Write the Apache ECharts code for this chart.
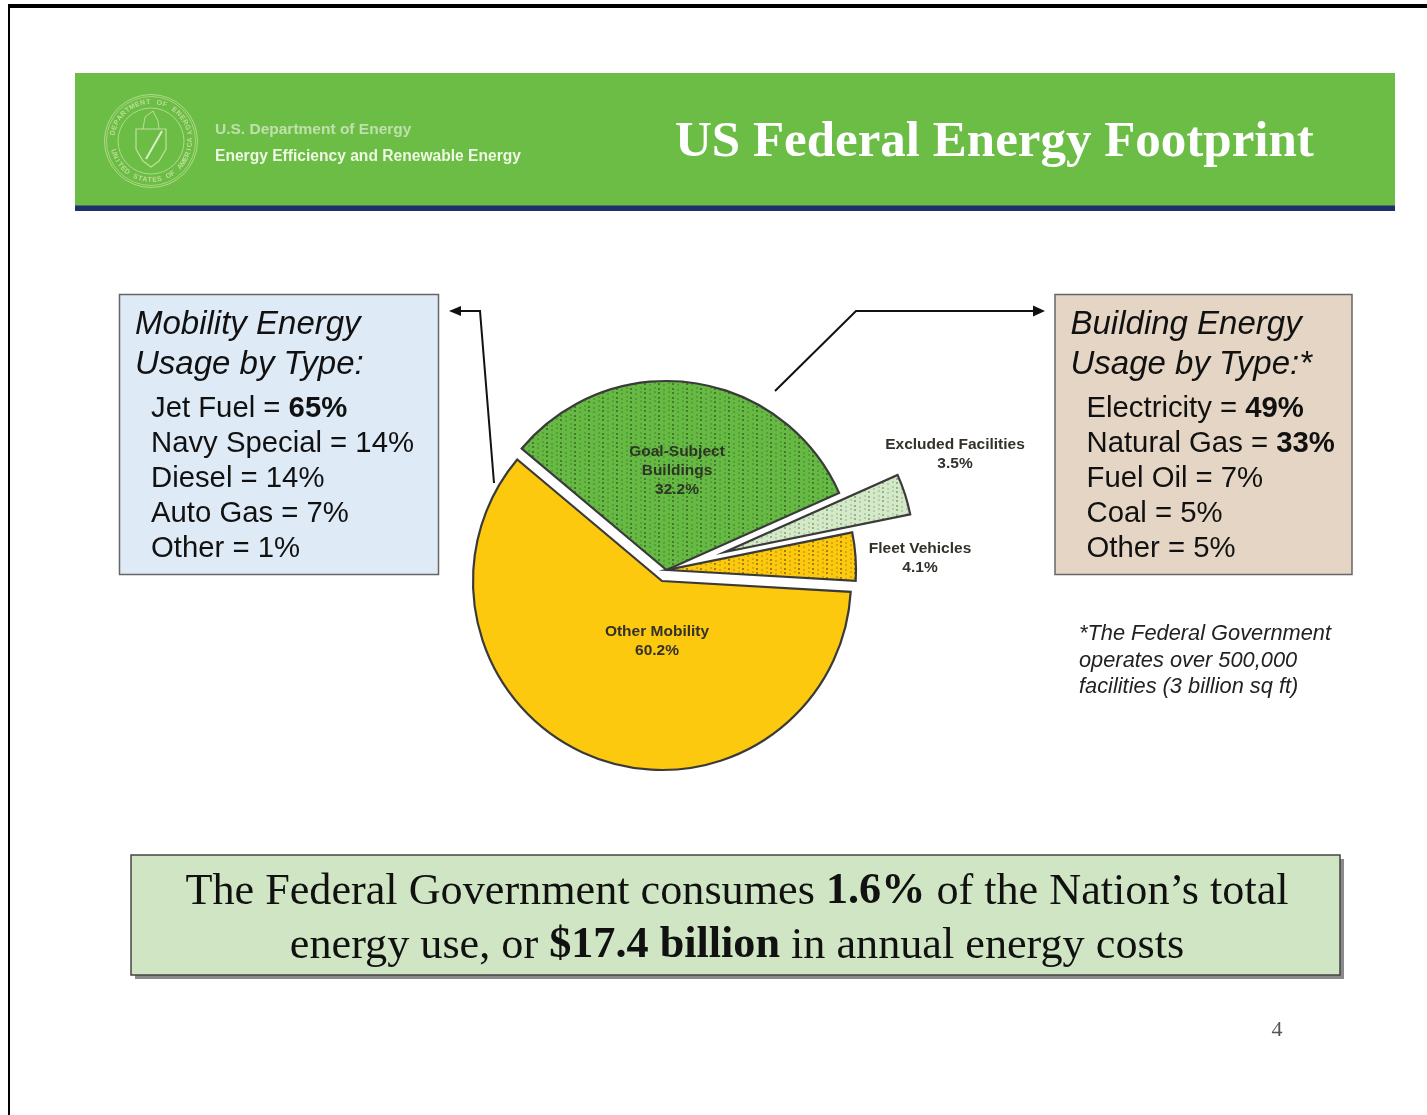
<!DOCTYPE html>
<html>
<head>
<meta charset="utf-8">
<title>US Federal Energy Footprint</title>
<style>
  html, body { margin: 0; padding: 0; background: #fff; }
  #chart { width: 1427px; height: 1115px; }
</style>
<script src="https://cdn.jsdelivr.net/npm/echarts@6/dist/echarts.min.js"></script>
</head>
<body>
<div id="chart"></div>
<script>
// pie shares, clockwise from the top left cut
const sliceNames = ['Goal-Subject\nBuildings', 'Excluded Facilities', 'Fleet Vehicles', 'Other Mobility'];
const sliceValues = [32.2, 3.5, 4.1, 60.2];

const mobilityTypes = ['Jet Fuel', 'Navy Special', 'Diesel', 'Auto Gas', 'Other'];
const mobilityShares = [65, 14, 14, 7, 1];
const buildingTypes = ['Electricity', 'Natural Gas', 'Fuel Oil', 'Coal', 'Other'];
const buildingShares = [49, 33, 7, 5, 5];

const sans = '"Liberation Sans", Arial, sans-serif';
const serif = '"Liberation Serif", "Times New Roman", serif';

// each slice is pulled out by its own amount, so every slice gets its own pie centre
const sliceCenters = [[666.5, 570], [725, 552], [667, 570], [662, 581]];
// fixed label anchors (the labels do not sit at the default place of a pie label)
const labelAnchors = [[677, 471], [955, 454], [920, 558], [657, 641]];

// dotted fill of the slices: soft 2px dots, every third column stronger
function dotPattern(base, dark, light) {
  const c = document.createElement('canvas');
  c.width = 14;
  c.height = 9;
  const g = c.getContext('2d');
  g.fillStyle = base;
  g.fillRect(0, 0, 14, 9);
  g.fillStyle = light;
  [[5, 2], [5, 6], [10, 0], [10, 4]].forEach(function (p) {
    g.fillRect(p[0], p[1], 2, 2);
  });
  g.fillStyle = dark;
  g.fillRect(0, 1, 2, 2);
  g.fillRect(0, 5, 2, 2);
  return { image: c, repeat: 'repeat' };
}

const sliceFills = [
  dotPattern('#66ba43', 'rgba(30,60,20,0.5)', 'rgba(40,90,25,0.28)'),
  dotPattern('#d3e9c7', 'rgba(60,90,50,0.4)', 'rgba(90,120,80,0.25)'),
  dotPattern('#fdc90f', 'rgba(70,50,0,0.5)', 'rgba(110,85,0,0.28)'),
  '#fdc90f'
];

const chart = echarts.init(document.getElementById('chart'), null, { renderer: 'canvas' });

function sliceSeries(own) {
  return {
    type: 'pie',
    silent: true,
    animation: false,
    center: sliceCenters[own],
    radius: [0, 189],
    startAngle: 140,
    clockwise: true,
    avoidLabelOverlap: false,
    labelLine: { show: false },
    emphasis: { disabled: true },
    labelLayout: function () {
      return {
        x: labelAnchors[own][0],
        y: labelAnchors[own][1],
        align: 'center',
        verticalAlign: 'middle'
      };
    },
    data: sliceNames.map(function (name, i) {
      if (i !== own) {
        return { name: name, value: sliceValues[i], itemStyle: { color: 'transparent', borderWidth: 0 }, label: { show: false } };
      }
      return {
        name: name,
        value: sliceValues[i],
        itemStyle: { color: sliceFills[i], borderColor: '#3a3a3a', borderWidth: 2.2, borderJoin: 'miter' },
        label: {
          show: true,
          formatter: '{b}\n{c}%',
          color: i === 0 ? '#2c3526' : '#33312a',
          fontFamily: sans,
          fontWeight: 'bold',
          fontSize: 15.5,
          lineHeight: 19,
          align: 'center'
        }
      };
    })
  };
}

function rect(x, y, w, h, fill, stroke, lineWidth) {
  return {
    type: 'rect',
    shape: { x: x, y: y, width: w, height: h },
    style: { fill: fill, stroke: stroke || null, lineWidth: lineWidth || 0 }
  };
}

function label(x, y, text, font, extra) {
  return {
    type: 'text',
    x: x,
    y: y,
    style: Object.assign({ text: text, font: font, fill: '#111', textAlign: 'left', textVerticalAlign: 'middle' }, extra || {})
  };
}

function arrow(points, head) {
  return [
    { type: 'polyline', shape: { points: points }, style: { stroke: '#111', lineWidth: 2, fill: null } },
    { type: 'polygon', shape: { points: head }, style: { fill: '#111' } }
  ];
}

// box with a two line heading and a list of type = share rows
function usageBox(x, w, fill, heading1, heading2, types, shares, boldRows) {
  const items = [
    rect(x, 294.5, w, 280, fill, '#666', 1.5),
    label(x + 15.5, 325, heading1, 'italic 33px ' + sans),
    label(x + 15.5, 365, heading2, 'italic 33px ' + sans)
  ];
  const rowY = [408.5, 443.5, 478.5, 513.5, 548.5];
  types.forEach(function (t, i) {
    const bold = i < boldRows;
    items.push(label(x + 31.5, rowY[i], t + ' = ' + (bold ? '{b|' + shares[i] + '%}' : shares[i] + '%'), '29.3px ' + sans, {
      rich: { b: { font: 'bold 29.3px ' + sans, fill: '#111' } }
    }));
  });
  return items;
}

// seal in the header: rings, lettering around the rim, small shield
function sealItems(cx, cy) {
  const pale = '#cfe6a8';
  const items = [
    { type: 'circle', shape: { cx: cx, cy: cy, r: 46.5 }, style: { fill: null, stroke: pale, lineWidth: 1, opacity: 0.7 } },
    { type: 'circle', shape: { cx: cx, cy: cy, r: 44.5 }, style: { fill: null, stroke: pale, lineWidth: 1, opacity: 0.6 } },
    { type: 'circle', shape: { cx: cx, cy: cy, r: 33 }, style: { fill: null, stroke: pale, lineWidth: 1, opacity: 0.7 } },
    { type: 'polygon', shape: { points: [[cx - 15, cy - 12], [cx + 15, cy - 12], [cx + 15, cy + 8], [cx + 8, cy + 20], [cx, cy + 26], [cx - 8, cy + 20], [cx - 15, cy + 8]] },
      style: { fill: null, stroke: pale, lineWidth: 1.2, opacity: 0.85 } },
    { type: 'polyline', shape: { points: [[cx + 11, cy - 10], [cx - 5, cy + 18]] }, style: { stroke: '#e8f2d8', lineWidth: 2, fill: null, opacity: 0.9 } },
    { type: 'polyline', shape: { points: [[cx - 8, cy - 12], [cx - 6, cy - 24], [cx + 2, cy - 30], [cx + 7, cy - 20], [cx + 8, cy - 12]] }, style: { stroke: pale, lineWidth: 1, fill: null, opacity: 0.8 } }
  ];
  function ring(text, from, step, flip) {
    text.split('').forEach(function (ch, i) {
      const deg = from + step * i;
      const a = deg * Math.PI / 180;
      items.push({
        type: 'text',
        x: cx + 39 * Math.sin(a),
        y: cy - 39 * Math.cos(a),
        rotation: -(flip ? a + Math.PI : a),
        style: { text: ch, font: 'bold 7px ' + sans, fill: pale, textAlign: 'center', textVerticalAlign: 'middle', opacity: 0.8 }
      });
    });
  }
  ring('DEPARTMENT OF ENERGY', -78, 8.2, false);
  ring('UNITED STATES OF AMERICA', 254, -7.2, true);
  return items;
}

const graphicItems = [].concat(
  // page frame
  [rect(8, 4, 1419, 4, '#000'), rect(8, 4, 2, 1111, '#000')],
  // header band
  [rect(75, 73, 1320, 133, '#6cbd45'), rect(75, 205.5, 1320, 5.5, '#1f2f6e')],
  sealItems(151, 141),
  [
    label(215, 130, 'U.S. Department of Energy', 'bold 15.5px ' + sans, { fill: '#bfe0ad' }),
    label(215, 157, 'Energy Efficiency and Renewable Energy', 'bold 15.6px ' + sans, { fill: '#eef7e2' }),
    label(675, 143, 'US Federal Energy Footprint', 'bold 51px ' + serif, { fill: '#fff' })
  ],
  usageBox(119.5, 319, '#dfeaf7', 'Mobility Energy', 'Usage by Type:', mobilityTypes, mobilityShares, 1),
  usageBox(1055, 297, '#e4d5c4', 'Building Energy', 'Usage by Type:*', buildingTypes, buildingShares, 2),
  arrow([[494, 483], [480, 311], [460, 311]], [[449, 311], [461, 306], [461, 316]]),
  arrow([[775, 391], [856, 311], [1034, 311]], [[1045, 311], [1033, 305.5], [1033, 316.5]]),
  [
    label(1079, 634, '*The Federal Government', 'italic 21.8px ' + sans, { fill: '#222' }),
    label(1079, 661, 'operates over 500,000', 'italic 21.8px ' + sans, { fill: '#222' }),
    label(1079, 687, 'facilities (3 billion sq ft)', 'italic 21.8px ' + sans, { fill: '#222' })
  ],
  // bottom note
  [
    rect(135, 859, 1209, 120, '#8a8a8a'),
    rect(131, 855, 1209, 120, '#cfe5c3', '#444', 1.5),
    label(737, 892, 'The Federal Government consumes {b|1.6%} of the Nation\u2019s total', '44.2px ' + serif, {
      textAlign: 'center', rich: { b: { font: 'bold 44.2px ' + serif, fill: '#111' } }
    }),
    label(737, 946, 'energy use, or {b|$17.4 billion} in annual energy costs', '44.2px ' + serif, {
      textAlign: 'center', rich: { b: { font: 'bold 44.2px ' + serif, fill: '#111' } }
    }),
    label(1277, 1030, '4', '22px ' + serif, { fill: '#555', textAlign: 'center' })
  ]
);

chart.setOption({
  backgroundColor: '#fff',
  animation: false,
  graphic: { elements: graphicItems },
  series: sliceNames.map(function (n, i) { return sliceSeries(i); })
});
</script>
</body>
</html>
